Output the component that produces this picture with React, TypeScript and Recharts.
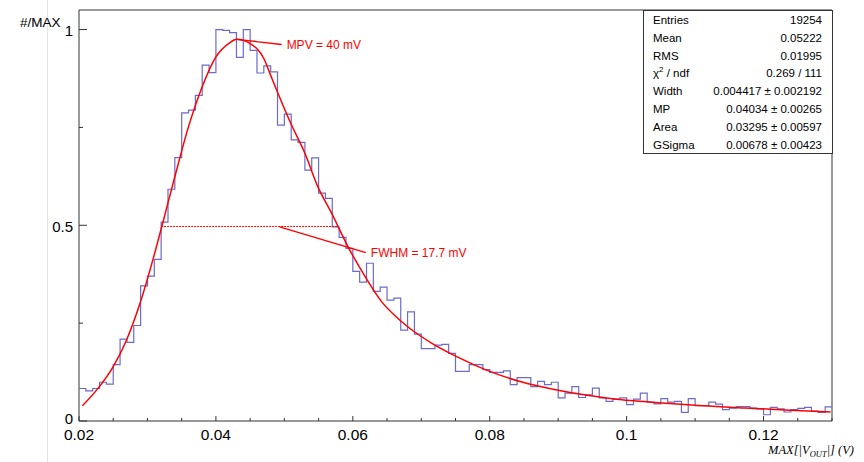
import React from 'react';
import { LineChart, Line, XAxis, YAxis, ReferenceLine, ReferenceDot, ReferenceArea } from 'recharts';

// Histogram: bin lower edge start, bin width, normalized contents (#/MAX)
const HIST_START = 0.02;
const HIST_BIN = 0.001;
const HIST_END = 0.13;
const histCounts = [
  0.083, 0.077, 0.083, 0.099, 0.094, 0.144, 0.209, 0.201, 0.244, 0.345,
  0.370, 0.413, 0.508, 0.592, 0.673, 0.787, 0.794, 0.832, 0.909, 0.890,
  1.000, 0.998, 0.992, 0.929, 1.000, 0.947, 0.889, 0.907, 0.892, 0.756,
  0.784, 0.718, 0.712, 0.641, 0.672, 0.582, 0.569, 0.496, 0.469, 0.441,
  0.382, 0.355, 0.403, 0.331, 0.342, 0.309, 0.314, 0.232, 0.279, 0.222,
  0.185, 0.185, 0.194, 0.196, 0.173, 0.127, 0.127, 0.144, 0.144, 0.131,
  0.124, 0.124, 0.128, 0.093, 0.111, 0.111, 0.088, 0.101, 0.093, 0.099,
  0.059, 0.071, 0.088, 0.060, 0.067, 0.084, 0.059, 0.050, 0.056, 0.059,
  0.042, 0.056, 0.071, 0.048, 0.044, 0.057, 0.048, 0.050, 0.022, 0.057,
  0.039, 0.039, 0.048, 0.043, 0.029, 0.033, 0.037, 0.037, 0.033, 0.031,
  0.016, 0.035, 0.031, 0.023, 0.029, 0.032, 0.035, 0.025, 0.022, 0.036,
];

// Fit curve (Landau (x) Gaussian)
const fitX = [
  0.0205, 0.0228, 0.025, 0.0269, 0.0289, 0.031, 0.0321, 0.034, 0.036, 0.038,
  0.040, 0.042, 0.043, 0.045, 0.047, 0.048, 0.049, 0.051, 0.053, 0.0549,
  0.0569, 0.0593, 0.0618, 0.0642, 0.0666, 0.069, 0.0715, 0.0751, 0.0798, 0.0847,
  0.0896, 0.0945, 0.0993, 0.1036, 0.110, 0.1174, 0.1247, 0.1298,
];
const fitY = [
  0.039, 0.084, 0.139, 0.205, 0.300, 0.425, 0.497, 0.624, 0.752, 0.854,
  0.930, 0.966, 0.975, 0.964, 0.926, 0.883, 0.840, 0.758, 0.684, 0.598,
  0.531, 0.445, 0.369, 0.305, 0.262, 0.228, 0.199, 0.165, 0.128, 0.0995,
  0.080, 0.065, 0.054, 0.048, 0.040, 0.033, 0.027, 0.023,
];

const xTicks = [
  0.02, 0.025, 0.03, 0.035, 0.04, 0.045, 0.05, 0.055, 0.06, 0.065, 0.07,
  0.075, 0.08, 0.085, 0.09, 0.095, 0.1, 0.105, 0.11, 0.115, 0.12, 0.125, 0.13,
];
const xMajor = [0.02, 0.04, 0.06, 0.08, 0.1, 0.12];
const xMajorLabels = ['0.02', '0.04', '0.06', '0.08', '0.1', '0.12'];
const yTicks = [0, 0.25, 0.5, 0.75, 1];
const yMajor = [0, 0.5, 1];
const yMajorLabels = ['0', '0.5', '1'];

const statNames = ['Entries', 'Mean', 'RMS', 'CHI', 'Width', 'MP', 'Area', 'GSigma'];
const statValues = [
  '19254', '0.05222', '0.01995', '0.269 / 111',
  '0.004417 \u00b1 0.002192', '0.04034 \u00b1 0.00265',
  '0.03295 \u00b1 0.00597', '0.00678 \u00b1 0.00423',
];

const mpvText = 'MPV = 40 mV';
const fwhmText = 'FWHM = 17.7 mV';

const histData = histCounts
  .map((v, i) => ({ x: +(HIST_START + i * HIST_BIN).toFixed(4), y: v }))
  .concat([{ x: HIST_END, y: histCounts[histCounts.length - 1] }]);
const fitData = fitX.map((x, i) => ({ x, y: fitY[i] }));

const FONT = '"Liberation Sans", Arial, Helvetica, sans-serif';

const findIdx = (arr: number[], v: number) => arr.findIndex((a) => Math.abs(a - v) < 1e-9);

const XTick = (props: any) => {
  const { x, y, payload } = props;
  const idx = findIdx(xMajor, payload.value);
  const major = idx >= 0;
  return (
    <g>
      <line x1={x} x2={x} y1={y} y2={y - (major ? 5 : 3)} stroke="#333" strokeWidth={1} />
      {major && (
        <text x={x} y={y + 13} textAnchor="middle" dominantBaseline="central" fontSize={15.5} fontFamily={FONT} fill="#000">
          {xMajorLabels[idx]}
        </text>
      )}
    </g>
  );
};

const YTick = (props: any) => {
  const { x, y, payload } = props;
  const idx = findIdx(yMajor, payload.value);
  const major = idx >= 0;
  const dy = payload.value === 0 ? -3 : 1;
  return (
    <g>
      <line x1={x} x2={x + (major ? 8 : 4)} y1={y} y2={y} stroke="#333" strokeWidth={1} />
      {major && (
        <text x={x - 6} y={y + dy} textAnchor="end" dominantBaseline="central" fontSize={15} fontFamily={FONT} fill="#000">
          {yMajorLabels[idx]}
        </text>
      )}
    </g>
  );
};

export default function App() {
  return (
    <div style={{ position: 'absolute', left: 0, top: 0, width: 864, height: 462, background: '#fff', overflow: 'hidden' }}>
      <div style={{ position: 'absolute', left: 47, top: 0, width: 1, height: 462, background: '#e4e4e4' }} />
      <LineChart width={864} height={462} margin={{ top: 10, right: 32, bottom: 40, left: 78 }}>
        <XAxis
          type="number"
          dataKey="x"
          domain={[0.02, 0.13]}
          ticks={xTicks}
          interval={0}
          height={1}
          tickSize={0}
          tickMargin={0}
          axisLine={false}
          tick={(p: any) => <XTick {...p} />}
          allowDataOverflow
        />
        <YAxis
          type="number"
          domain={[0, 1.05]}
          ticks={yTicks}
          interval={0}
          width={1}
          tickSize={0}
          tickMargin={0}
          axisLine={false}
          tick={(p: any) => <YTick {...p} />}
          allowDataOverflow
        />
        <ReferenceArea x1={0.02} x2={0.13} y1={0} y2={1.05} fill="none" stroke="#333" strokeWidth={1} fillOpacity={0} />
        <Line
          data={histData}
          dataKey="y"
          type="stepAfter"
          stroke="#6b6bcc"
          strokeWidth={1.2}
          dot={false}
          isAnimationActive={false}
        />
        <Line
          data={fitData}
          dataKey="y"
          type="monotone"
          stroke="#ff0000"
          strokeWidth={1.5}
          dot={false}
          isAnimationActive={false}
        />
        <ReferenceLine
          segment={[{ x: 0.032, y: 0.497 }, { x: 0.0578, y: 0.497 }]}
          stroke="#ff0000"
          strokeWidth={1}
          strokeDasharray="2 1"
        />
        <ReferenceLine
          segment={[{ x: 0.043, y: 0.975 }, { x: 0.0496, y: 0.962 }]}
          stroke="#ff0000"
          strokeWidth={1.4}
        />
        <ReferenceLine
          segment={[{ x: 0.0493, y: 0.496 }, { x: 0.0619, y: 0.43 }]}
          stroke="#ff0000"
          strokeWidth={1.4}
        />
        <ReferenceDot
          x={0.0496}
          y={0.962}
          r={0}
          fill="none"
          stroke="none"
          label={{ value: mpvText, position: 'right', fill: '#ff0000', fontSize: 12, fontFamily: FONT }}
        />
        <ReferenceDot
          x={0.0619}
          y={0.43}
          r={0}
          fill="none"
          stroke="none"
          label={{ value: fwhmText, position: 'right', fill: '#ff0000', fontSize: 12, fontFamily: FONT }}
        />
      </LineChart>
      <div style={{ position: 'absolute', left: 20, top: 15, fontFamily: FONT, fontSize: 13.5, color: '#000', lineHeight: '16px' }}>
        #/MAX
      </div>
      <div
        style={{
          position: 'absolute', left: 643, top: 10, width: 188, height: 141,
          border: '1px solid #333', background: '#fff', fontFamily: FONT, fontSize: 11.5, color: '#000',
          paddingTop: 1, boxSizing: 'content-box',
        }}
      >
        {statNames.map((n, i) => (
          <div key={n} style={{ display: 'flex', justifyContent: 'space-between', height: 17.8, lineHeight: '17.8px', paddingLeft: 9, paddingRight: 10 }}>
            <span>
              {n === 'CHI' ? (
                <>
                  {'\u03c7'}
                  <sup style={{ fontSize: 8, verticalAlign: 'top', lineHeight: '10px' }}>2</sup>
                  {' / ndf'}
                </>
              ) : n}
            </span>
            <span>{statValues[i]}</span>
          </div>
        ))}
      </div>
      <div
        style={{
          position: 'absolute', left: 768, top: 443, fontFamily: '"Liberation Serif", "Times New Roman", serif',
          fontStyle: 'italic', fontSize: 12.5, color: '#000', whiteSpace: 'nowrap', lineHeight: '14px',
        }}
      >
        MAX[|V<sub style={{ fontSize: 8.5, verticalAlign: 'baseline', position: 'relative', top: 3 }}>OUT</sub>|] (V)
      </div>
    </div>
  );
}
